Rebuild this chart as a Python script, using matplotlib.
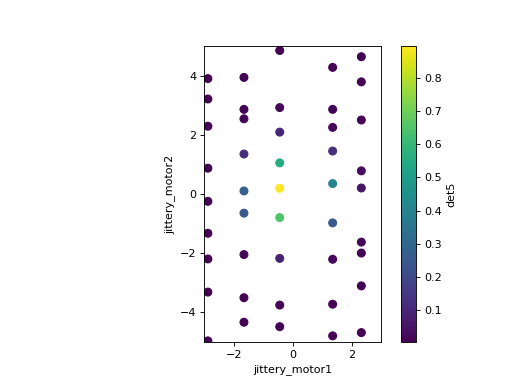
import matplotlib
matplotlib.use("Agg")
import matplotlib.pyplot as plt
import numpy as np

# column x positions (jittery_motor1) and per-point y / det5 values
motor1_cols = [-2.87, -1.65, -0.44, 1.35, 2.32]

motor2 = [
    [3.90, 3.21, 2.29, 0.87, -0.25, -1.33, -2.20, -3.32, -4.97],
    [3.94, 2.86, 2.54, 1.35, 0.10, -0.65, -2.05, -3.51, -4.34],
    [4.85, 2.92, 2.09, 1.05, 0.19, -0.80, -2.18, -3.76, -4.49],
    [4.28, 2.86, 2.25, 1.45, 0.35, -0.98, -2.21, -3.73, -4.80],
    [4.64, 3.79, 2.50, 0.78, 0.20, -1.63, -2.00, -3.11, -4.69],
]

det5 = [
    [0.005, 0.008, 0.01, 0.01, 0.01, 0.008, 0.006, 0.005, 0.005],
    [0.005, 0.01, 0.015, 0.12, 0.27, 0.25, 0.02, 0.01, 0.005],
    [0.005, 0.02, 0.10, 0.55, 0.895, 0.65, 0.09, 0.01, 0.006],
    [0.005, 0.01, 0.02, 0.13, 0.40, 0.25, 0.02, 0.008, 0.005],
    [0.005, 0.008, 0.01, 0.03, 0.05, 0.02, 0.01, 0.006, 0.005],
]


def main():
    xs, ys, cs = [], [], []
    for x, col_y, col_c in zip(motor1_cols, motor2, det5):
        for y, c in zip(col_y, col_c):
            xs.append(x)
            ys.append(y)
            cs.append(c)

    fig, ax = plt.subplots(figsize=(6.4, 4.8), dpi=80)
    sc = ax.scatter(xs, ys, c=cs, cmap="viridis", s=50)
    ax.set_xlim(-3, 3)
    ax.set_ylim(-5, 5)
    ax.set_aspect("equal")
    ax.set_xlabel("jittery_motor1")
    ax.set_ylabel("jittery_motor2")
    cb = fig.colorbar(sc, ax=ax)
    cb.set_label("det5")
    fig.savefig("out.png", dpi=80)


if __name__ == "__main__":
    main()
